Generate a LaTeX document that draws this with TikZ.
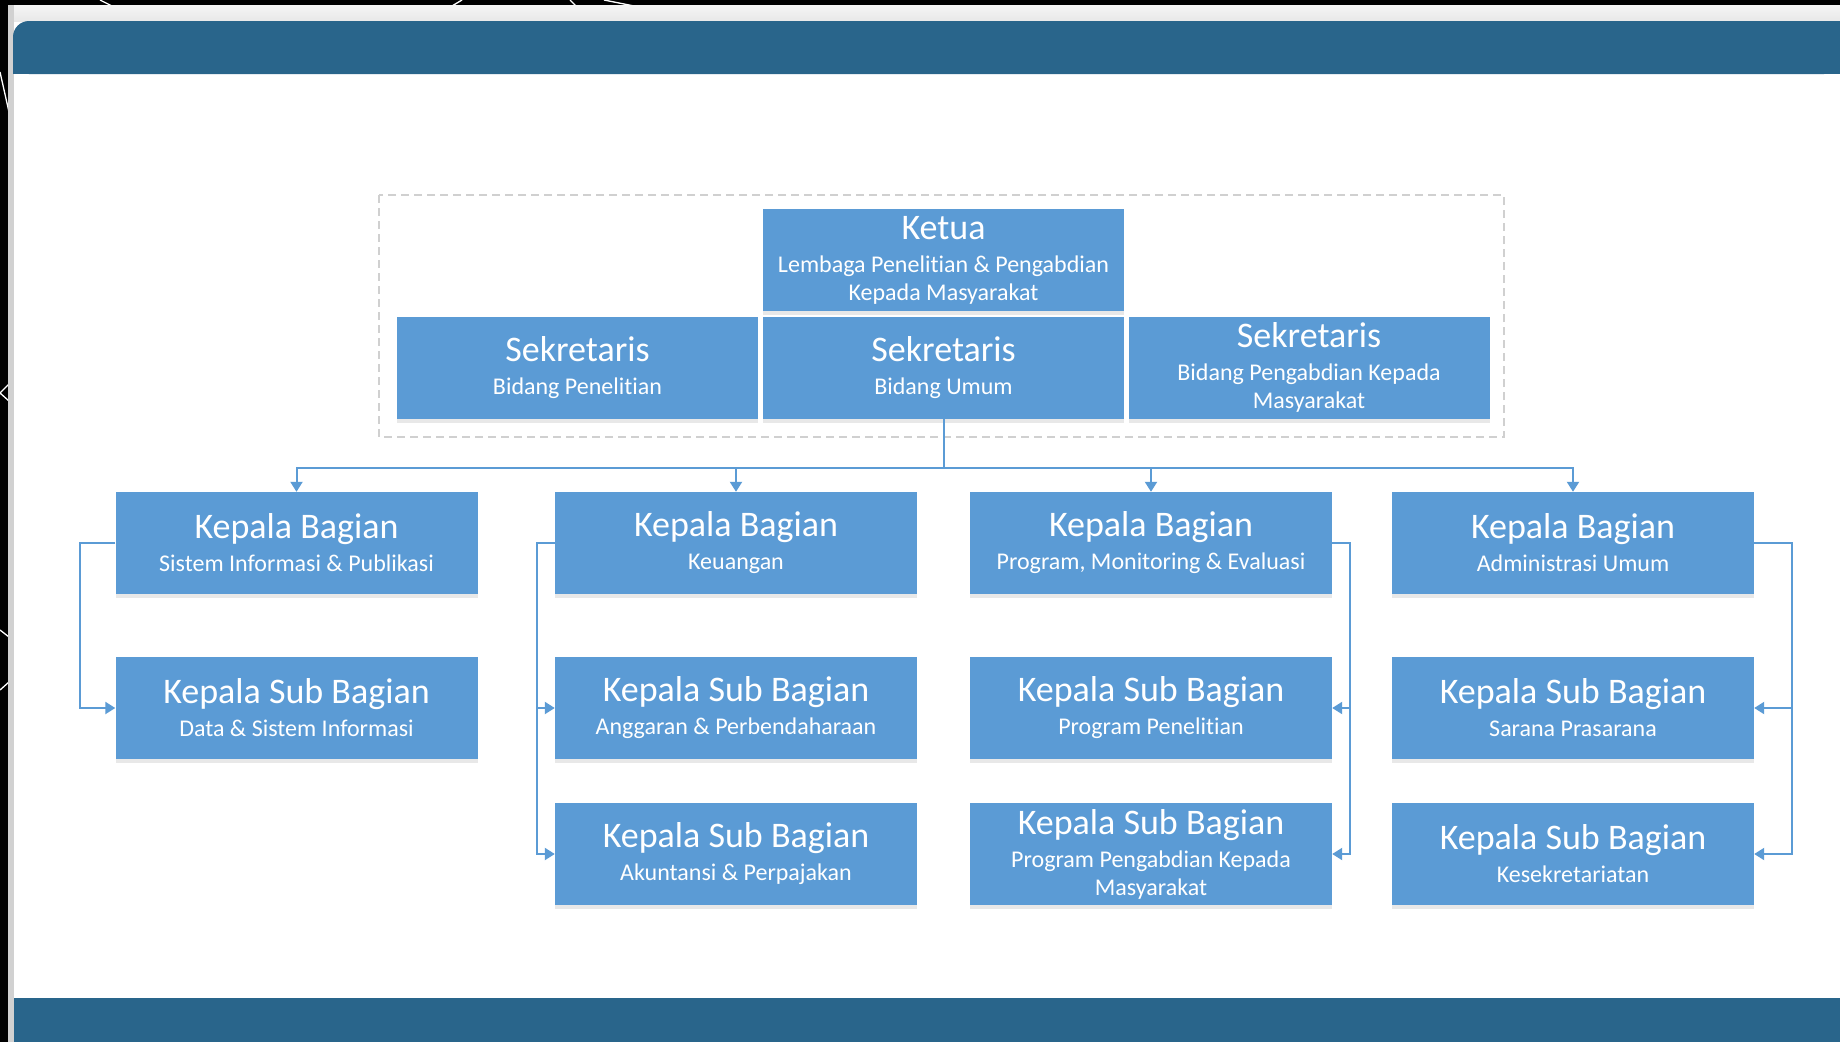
\documentclass[tikz,border=0pt]{standalone}
\usepackage{fontspec}
\setmainfont{Carlito}[Ligatures=NoCommon]
\usetikzlibrary{arrows.meta,shadows}
\definecolor{Orgblue}{RGB}{91,155,213}
\definecolor{Barblue}{RGB}{41,101,139}
\definecolor{Dashgray}{RGB}{208,208,208}
\newcommand{\bigtitle}{\fontsize{36}{40}\selectfont}

\begin{document}
\begin{tikzpicture}[x=1pt,y=-1pt,
    orgbox/.style={fill=Orgblue, text=white, minimum width=362pt, minimum height=102pt,
        inner sep=2pt, align=center, font=\fontsize{24}{28}\selectfont,
        drop shadow={opacity=0.18, shadow xshift=0pt, shadow yshift=-4pt}},
    link/.style={draw=Orgblue, line width=2pt},
    arrow/.style={link, -{Triangle[width=12pt,length=10pt]}}]
    \useasboundingbox (0,0) rectangle (1840,1042);

    % slide on black screen
    \fill[black] (0,0) rectangle (1840,1042);
    \draw[white, line width=1.3pt] (0,72) -- (9,112);
    \draw[white, line width=1.3pt] (9,384) -- (0,393) -- (9,401);
    \draw[white, line width=1.3pt] (0,630) -- (9,637);
    \draw[white, line width=1.3pt] (0,690) -- (9,682);
    \draw[white, line width=1.3pt] (100,0) -- (112,6);
    \draw[white, line width=1.3pt] (452,6) -- (462,0);
    \draw[white, line width=1.3pt] (570,0) -- (576,6);
    \draw[white, line width=1.3pt] (604,0) -- (634,6);
    \fill[white] (8,5) rectangle (1840,1042);
    \shade[top color=gray!8, bottom color=gray!18] (8,5) rectangle (1840,21);
    \fill[black!18] (8,5) rectangle (14,1042);

    % top and bottom bars
    \fill[Barblue, rounded corners=16pt] (13,21) rectangle (1840,74);
    \fill[Barblue] (40,21) rectangle (1840,74);
    \fill[Barblue] (13,50) rectangle (60,74);
    \fill[Barblue] (14,998) rectangle (1840,1042);

    % pimpinan
    \draw[Dashgray, line width=1.5pt, dash pattern=on 8pt off 5pt] (379,195) rectangle (1504,437);
    \node[orgbox, minimum width=361pt] (ketua) at (943.5,260) {{\bigtitle Ketua}\\[5pt]Lembaga Penelitian \& Pengabdian\\Kepada Masyarakat};
    \node[orgbox, minimum width=361pt] (sekpen) at (577.5,367.5) {{\bigtitle Sekretaris}\\[5pt]Bidang Penelitian};
    \node[orgbox, minimum width=361pt] (sekum) at (943.5,367.5) {{\bigtitle Sekretaris}\\[5pt]Bidang Umum};
    \node[orgbox, minimum width=361pt] (sekpeng) at (1309,367.5) {{\bigtitle Sekretaris}\\[5pt]Bidang Pengabdian Kepada\\Masyarakat};

    % kepala bagian
    \node[orgbox] (kbsi) at (296.5,543) {{\bigtitle Kepala Bagian}\\[5pt]Sistem Informasi \& Publikasi};
    \node[orgbox] (kbku) at (736,543) {{\bigtitle Kepala Bagian}\\[5pt]Keuangan};
    \node[orgbox] (kbpme) at (1151,543) {{\bigtitle Kepala Bagian}\\[5pt]Program, Monitoring \& Evaluasi};
    \node[orgbox] (kbau) at (1573,543) {{\bigtitle Kepala Bagian}\\[5pt]Administrasi Umum};

    % kepala sub bagian
    \node[orgbox] (sbdata) at (296.5,708) {{\bigtitle Kepala Sub Bagian}\\[5pt]Data \& Sistem Informasi};
    \node[orgbox] (sbagg) at (736,708) {{\bigtitle Kepala Sub Bagian}\\[5pt]Anggaran \& Perbendaharaan};
    \node[orgbox] (sbakun) at (736,854) {{\bigtitle Kepala Sub Bagian}\\[5pt]Akuntansi \& Perpajakan};
    \node[orgbox] (sbpen) at (1151,708) {{\bigtitle Kepala Sub Bagian}\\[5pt]Program Penelitian};
    \node[orgbox] (sbpeng) at (1151,854) {{\bigtitle Kepala Sub Bagian}\\[5pt]Program Pengabdian Kepada\\Masyarakat};
    \node[orgbox] (sbsar) at (1573,708) {{\bigtitle Kepala Sub Bagian}\\[5pt]Sarana Prasarana};
    \node[orgbox] (sbsek) at (1573,854) {{\bigtitle Kepala Sub Bagian}\\[5pt]Kesekretariatan};

    % garis komando
    \coordinate (bus) at (943.5,468);
    \draw[link] (sekum.south) -- (bus);
    \foreach \kb in {kbsi,kbku,kbpme,kbau}
        \draw[arrow] (bus) -| (\kb.north);

    \draw[arrow] (kbsi.west) -- ++(-35,0) |- (sbdata.west);
    \draw[arrow] (kbku.west) -- ++(-18,0) |- (sbagg.west);
    \draw[arrow] (kbku.west) -- ++(-18,0) |- (sbakun.west);
    \draw[arrow] (kbpme.east) -- ++(18,0) |- (sbpen.east);
    \draw[arrow] (kbpme.east) -- ++(18,0) |- (sbpeng.east);
    \draw[arrow] (kbau.east) -- ++(38,0) |- (sbsar.east);
    \draw[arrow] (kbau.east) -- ++(38,0) |- (sbsek.east);
\end{tikzpicture}
\end{document}
